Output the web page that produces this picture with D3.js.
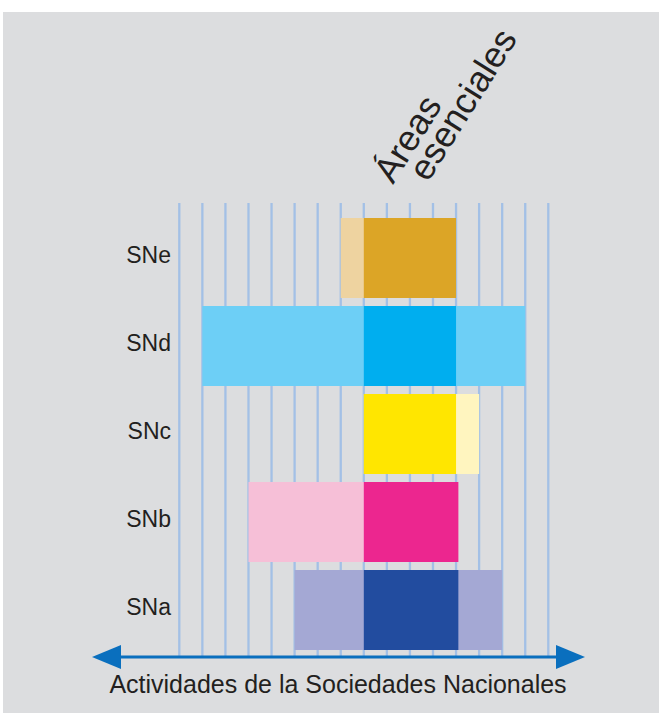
<!DOCTYPE html>
<html>
<head>
<meta charset="utf-8">
<script src="https://cdn.jsdelivr.net/npm/d3@7"></script>
<style>
  body { margin: 0; background: #fff; }
  text { font-family: "Liberation Sans", Arial, sans-serif; fill: #231f20; }
</style>
</head>
<body>
<div id="chart"></div>
<script>
// data, top row first
var categories = ["SNe", "SNd", "SNc", "SNb", "SNa"];
var outerStart = [7, 1, 8, 3, 5];
var outerEnd   = [12, 15, 13, 12.1, 14];
var coreStart  = [8, 8, 8, 8, 8];
var coreEnd    = [12, 12, 12, 12.1, 12.1];
var lightColors = ["#eed3a0", "#6dcff6", "#fff5bf", "#f6bfd7", "#a4a8d4"];
var darkColors  = ["#dca526", "#00aeef", "#ffe600", "#ec268f", "#224c9f"];
var gridTicks = d3.range(0, 17);
var titleLines = ["Áreas", "esenciales"];
var axisTitle = "Actividades de la Sociedades Nacionales";

var svgWidth = 659, svgHeight = 713;

var svg = d3.select("#chart").append("svg")
    .attr("width", svgWidth)
    .attr("height", svgHeight);

// grey panel
svg.append("rect")
    .attr("x", 3).attr("y", 12)
    .attr("width", svgWidth - 3).attr("height", svgHeight - 12)
    .attr("fill", "#dcdddf");

var x = d3.scaleLinear().domain([0, 16]).range([179.3, 548.3]);
var y = d3.scaleBand().domain(categories).range([214, 654])
    .paddingInner(8 / 88).paddingOuter(4 / 88);

// vertical grid lines
svg.append("g").selectAll("line")
    .data(gridTicks)
    .join("line")
    .attr("x1", d => x(d)).attr("x2", d => x(d))
    .attr("y1", 203).attr("y2", 656)
    .attr("stroke", "#a3c0e6")
    .attr("stroke-width", 2.3);

var rows = categories.map((c, i) => ({
  cat: c, s: outerStart[i], e: outerEnd[i], cs: coreStart[i], ce: coreEnd[i],
  light: lightColors[i], dark: darkColors[i]
}));

// wide (light) bars
svg.append("g").selectAll("rect")
    .data(rows)
    .join("rect")
    .attr("x", d => x(d.s))
    .attr("y", d => y(d.cat))
    .attr("width", d => x(d.e) - x(d.s))
    .attr("height", y.bandwidth())
    .attr("fill", d => d.light);

// core (dark) bars
svg.append("g").selectAll("rect")
    .data(rows)
    .join("rect")
    .attr("x", d => x(d.cs))
    .attr("y", d => y(d.cat))
    .attr("width", d => x(d.ce) - x(d.cs))
    .attr("height", y.bandwidth())
    .attr("fill", d => d.dark);

// row labels
svg.append("g").selectAll("text")
    .data(categories)
    .join("text")
    .attr("x", 171)
    .attr("y", d => y(d) + y.bandwidth() / 2 + 5)
    .attr("text-anchor", "end")
    .style("font-size", "23px")
    .text(d => d);

// double arrow
var ay = 657;
svg.append("line")
    .attr("x1", 115).attr("x2", 562)
    .attr("y1", ay).attr("y2", ay)
    .attr("stroke", "#0a6fbe").attr("stroke-width", 3);
svg.append("path")
    .attr("d", `M92,${ay} L121,${ay - 12} L121,${ay + 12} Z`)
    .attr("fill", "#0a6fbe");
svg.append("path")
    .attr("d", `M585,${ay} L556,${ay - 12} L556,${ay + 12} Z`)
    .attr("fill", "#0a6fbe");

svg.append("text")
    .attr("x", 338).attr("y", 693)
    .attr("text-anchor", "middle")
    .style("font-size", "25px")
    .text(axisTitle);

// rotated title
var titlePos = [[393, 185], [428, 183]];
svg.append("g").selectAll("text")
    .data(titleLines)
    .join("text")
    .attr("transform", (d, i) => `translate(${titlePos[i][0]},${titlePos[i][1]}) rotate(-58)`)
    .style("font-size", "36px")
    .text(d => d);
</script>
</body>
</html>
